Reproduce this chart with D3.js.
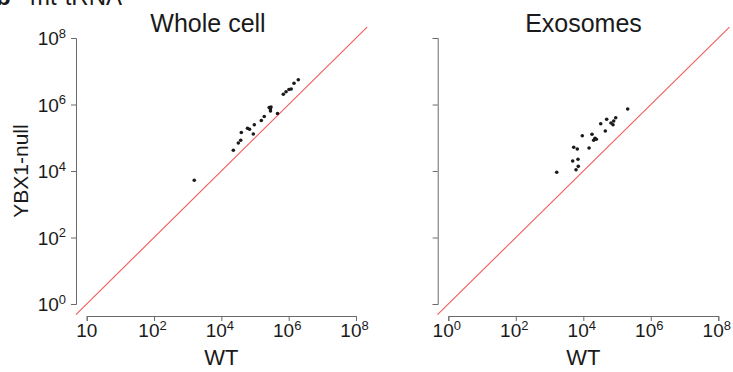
<!DOCTYPE html>
<html>
<head>
<meta charset="utf-8">
<script src="https://cdn.jsdelivr.net/npm/d3@7"></script>
<style>
  html, body { margin: 0; padding: 0; background: #fff; }
  svg { display: block; font-family: "Liberation Sans", Arial, sans-serif; }
</style>
</head>
<body>
<svg id="chart" width="733" height="372"></svg>
<script>
// ---------- data ----------
const panelTitles = ["Whole cell", "Exosomes"];
const xAxisLabel = "WT";
const yAxisLabel = "YBX1-null";
const headerLetter = "b";
const headerText = "mt-tRNA";

const tickValues = [1, 1e2, 1e4, 1e6, 1e8];
const xTickLabelsWhole = ["10", "10^2", "10^4", "10^6", "10^8"];
const xTickLabelsExo = ["10^0", "10^2", "10^4", "10^6", "10^8"];
const yTickLabels = ["10^0", "10^2", "10^4", "10^6", "10^8"];

// Whole cell: WT vs YBX1-null
const wholeWT = [1570, 22700, 31900, 37600, 39200, 59800, 68700, 88900, 95300, 154000, 188000,
  264000, 288000, 299000, 288000, 466000, 693000, 834000, 1020000, 1190000, 1440000, 1930000];
const wholeKO = [5250, 42000, 69500, 83800, 144000, 194000, 180000, 130000, 245000, 330000, 436000,
  813000, 733000, 841000, 638000, 536000, 2040000, 2430000, 2830000, 2920000, 4350000, 5570000];

// Exosomes: WT vs YBX1-null
const exoWT = [1630, 4850, 6080, 7110, 6970, 5200, 6640, 9330, 14800, 18100, 20300, 22200, 24300,
  32800, 44900, 49300, 66200, 75900, 79600, 91200, 207000];
const exoKO = [9140, 20000, 10900, 13800, 22500, 51600, 45900, 115000, 49200, 127000, 83800, 96200,
  89700, 265000, 160000, 359000, 278000, 247000, 319000, 401000, 733000];

// identity line extent (y = x)
const identityLine = [Math.pow(10, -0.32), Math.pow(10, 8.33)];

// ---------- drawing ----------
const svg = d3.select("#chart");
const FONT = "'Liberation Sans', Arial, sans-serif";
const TEXT = "#1a1a1a";
const AXIS = "#6a6a6a";
const TICK_FS = 19;
const SUP_FS = 13;

function powLabel(parent, label, xPos, yPos, anchor) {
  const parts = label.split("^");
  const t = parent.append("text")
    .attr("x", xPos).attr("y", yPos)
    .attr("text-anchor", anchor)
    .attr("font-size", TICK_FS)
    .attr("font-family", FONT)
    .attr("fill", TEXT);
  t.append("tspan").text(parts[0]);
  if (parts.length > 1) {
    t.append("tspan").attr("font-size", SUP_FS).attr("dy", -7.5).text(parts[1]);
  }
  return t;
}

const panels = [
  { title: panelTitles[0], titleX: 208, xr: [86.7, 356], yAxisX: 76, wt: wholeWT, ko: wholeKO,
    xLabels: xTickLabelsWhole, showY: true },
  { title: panelTitles[1], titleX: 583.5, xr: [448.3, 718.3], yAxisX: 437.7, wt: exoWT, ko: exoKO,
    xLabels: xTickLabelsExo, showY: false }
];

const yRange = [304, 38];
const xAxisY = 316;

panels.forEach(p => {
  const x = d3.scaleLog().domain([1, 1e8]).range(p.xr);
  const y = d3.scaleLog().domain([1, 1e8]).range(yRange);
  const g = svg.append("g");

  // x axis (ticks from d3 axis; labels placed with the same scale)
  const xg = g.append("g").attr("transform", `translate(0,${xAxisY})`)
    .call(d3.axisBottom(x).tickValues(tickValues).tickSize(5).tickFormat(""));
  xg.select(".domain").attr("stroke", AXIS).attr("stroke-width", 1);
  xg.selectAll(".tick line").attr("stroke", AXIS);
  tickValues.forEach((v, i) => {
    const lab = p.xLabels[i];
    const shift = lab.includes("^") ? -1.5 : 0;
    powLabel(g, lab, x(v) + shift, 337, "middle");
  });

  // y axis
  const yg = g.append("g").attr("transform", `translate(${p.yAxisX},0)`)
    .call(d3.axisLeft(y).tickValues(tickValues).tickSize(5).tickFormat(""));
  yg.select(".domain").attr("stroke", AXIS).attr("stroke-width", 1);
  yg.selectAll(".tick line").attr("stroke", AXIS);
  if (p.showY) {
    tickValues.forEach((v, i) => powLabel(g, yTickLabels[i], p.yAxisX - 10, y(v) + 7, "end"));
  }

  // identity line
  g.append("line")
    .attr("x1", x(identityLine[0])).attr("y1", y(identityLine[0]))
    .attr("x2", x(identityLine[1])).attr("y2", y(identityLine[1]))
    .attr("stroke", "#f25a5a").attr("stroke-width", 1.1);

  // points
  g.selectAll("circle.pt").data(p.wt.map((v, i) => [v, p.ko[i]]))
    .join("circle").attr("class", "pt")
    .attr("cx", d => x(d[0])).attr("cy", d => y(d[1]))
    .attr("r", 1.8).attr("fill", "#1a1a1a");

  // title
  g.append("text").attr("x", p.titleX).attr("y", 32)
    .attr("text-anchor", "middle").attr("font-size", 25).attr("fill", TEXT)
    .attr("font-family", FONT).text(p.title);

  // x label
  g.append("text").attr("x", (p.xr[0] + p.xr[1]) / 2).attr("y", 365)
    .attr("text-anchor", "middle").attr("font-size", 22).attr("fill", TEXT)
    .attr("font-family", FONT).text(xAxisLabel);

  if (p.showY) {
    g.append("text")
      .attr("transform", `translate(28,${(yRange[0] + yRange[1]) / 2}) rotate(-90)`)
      .attr("text-anchor", "middle").attr("font-size", 21).attr("fill", TEXT)
      .attr("font-family", FONT).text(yAxisLabel);
  }
});

// header at top-left (cut off by the top edge, as in the source figure)
svg.append("text").attr("x", -4).attr("y", 5).attr("font-size", 24).attr("font-weight", "bold")
  .attr("fill", TEXT).attr("font-family", FONT).text(headerLetter);
svg.append("text").attr("x", 30).attr("y", 5).attr("font-size", 24)
  .attr("fill", TEXT).attr("font-family", FONT).text(headerText);
</script>
</body>
</html>
